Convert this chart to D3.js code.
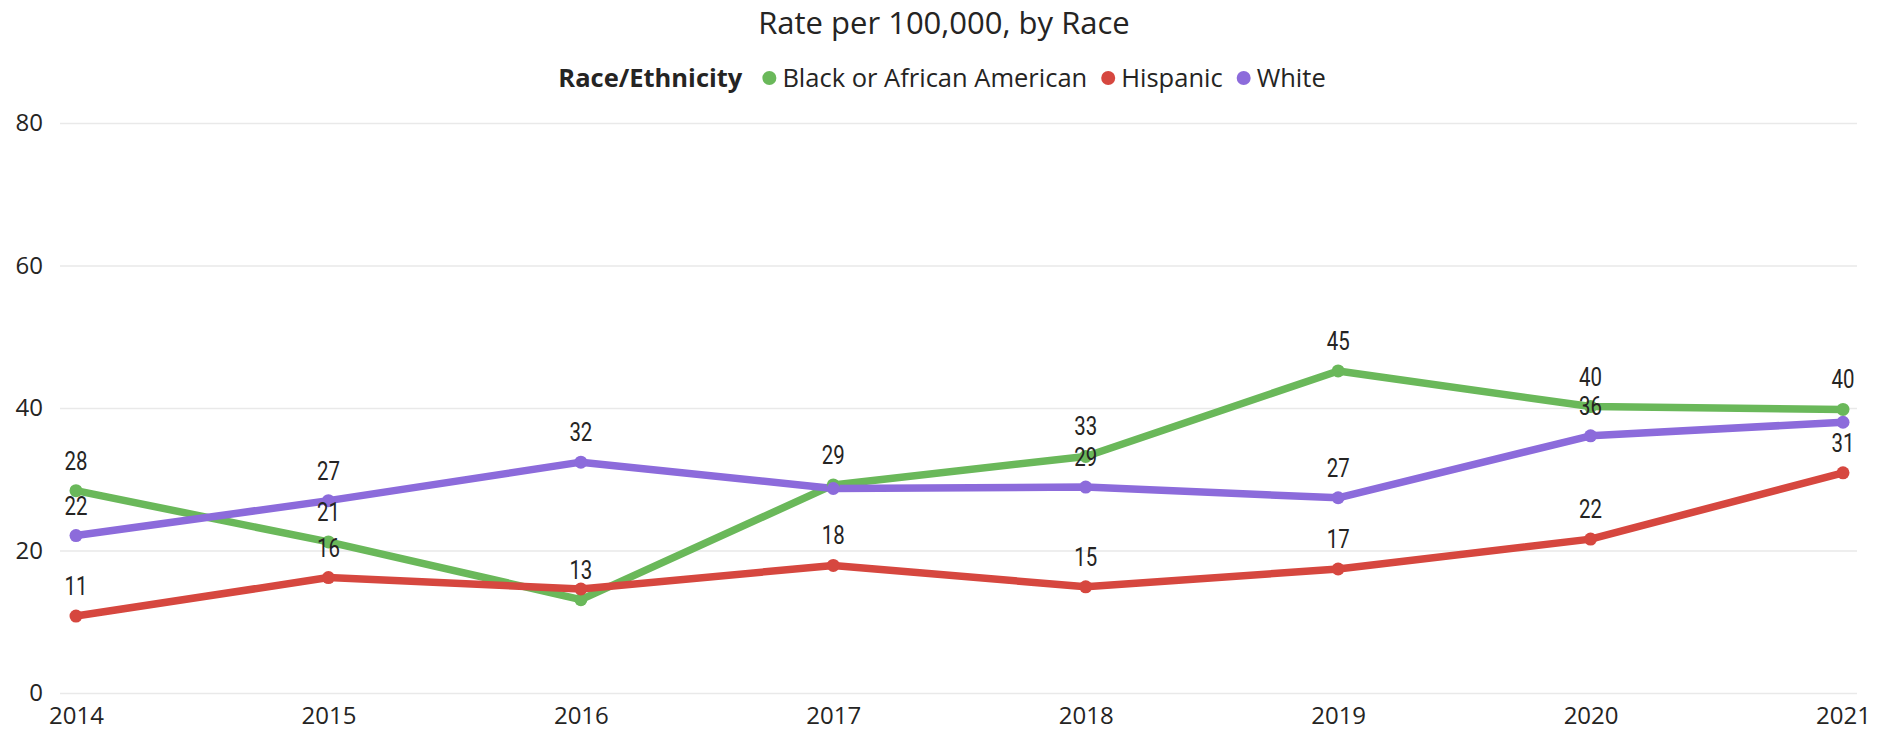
<!DOCTYPE html>
<html>
<head>
<meta charset="utf-8">
<script src="https://cdn.jsdelivr.net/npm/d3@7"></script>
<style>
  html, body { margin: 0; padding: 0; background: #fff; }
  svg { display: block; }
  .ui { font-family: "Segoe UI", "Open Sans", "Noto Sans", sans-serif; fill: #252423; }
  .lbl { font-family: "DIN", "Roboto", "DejaVu Sans", sans-serif; fill: #252423; font-weight: normal; }
</style>
</head>
<body>
<svg id="chart" width="1886" height="730"></svg>
<script>
// Rate per 100,000 population, by race/ethnicity
const years = ["2014", "2015", "2016", "2017", "2018", "2019", "2020", "2021"];
const blackValues    = [28.4, 21.2, 13.1, 29.2, 33.2, 45.2, 40.2, 39.8];
const hispanicValues = [10.8, 16.2, 14.6, 17.9, 14.9, 17.4, 21.6, 30.9];
const whiteValues    = [22.1, 27.0, 32.4, 28.7, 28.9, 27.4, 36.1, 38.0];
const seriesNames  = ["Black or African American", "Hispanic", "White"];
const seriesColors = ["#6ab85a", "#d6473f", "#8c6bdb"];
const yTicks = [0, 20, 40, 60, 80];
const titleText = "Rate per 100,000, by Race";
const legendTitle = "Race/Ethnicity";

const series = [blackValues, hispanicValues, whiteValues].map((vals, i) => ({
  name: seriesNames[i],
  color: seriesColors[i],
  values: vals.map((v, j) => ({ year: years[j], value: v }))
}));

const W = 1886, H = 730;
const svg = d3.select("#chart");

const x = d3.scalePoint().domain(years).range([76, 1843]);
const y = d3.scaleLinear().domain([0, 80]).range([693, 123]);

// Title
svg.append("text").attr("class", "ui")
  .attr("x", W / 2 + 1).attr("y", 34)
  .attr("text-anchor", "middle")
  .style("font-size", "31px")
  .text(titleText);

// Legend, centred as a whole
const legend = svg.append("g");
let cx = 0;
const lt = legend.append("text").attr("class", "ui")
  .attr("x", cx).attr("y", 87)
  .style("font-size", "25.5px").style("font-weight", "bold")
  .text(legendTitle);
cx += lt.node().getComputedTextLength() + 27;
series.forEach(s => {
  legend.append("circle").attr("cx", cx).attr("cy", 78).attr("r", 7).attr("fill", s.color);
  cx += 13;
  const t = legend.append("text").attr("class", "ui")
    .attr("x", cx).attr("y", 87)
    .style("font-size", "25.5px")
    .text(s.name);
  cx += t.node().getComputedTextLength() + 21;
});
const legendWidth = cx - 21;
legend.attr("transform", `translate(${(W - legendWidth) / 2 - 1},0)`);

// Gridlines and y-axis labels
const yAxis = d3.axisLeft(y).tickValues(yTicks).tickSize(-(1857 - 60)).tickPadding(17);
const yg = svg.append("g").attr("transform", "translate(60,0)").call(yAxis);
yg.select(".domain").remove();
yg.selectAll(".tick line").attr("stroke", "#e9e9e9").attr("stroke-width", 1.5);
yg.selectAll(".tick text").attr("class", "ui")
  .style("font-size", "24px").attr("fill", "#252423");

// x-axis labels
const xAxis = d3.axisBottom(x).tickSize(0).tickPadding(14);
const xg = svg.append("g").attr("transform", "translate(0,693)").call(xAxis);
xg.select(".domain").remove();
xg.selectAll(".tick text").attr("class", "ui")
  .style("font-size", "24px").attr("fill", "#252423");

// Lines and markers
const line = d3.line().x(d => x(d.year)).y(d => y(d.value));
const plot = svg.append("g");
series.forEach(s => {
  plot.append("path").datum(s.values)
    .attr("fill", "none").attr("stroke", s.color)
    .attr("stroke-width", 7.5).attr("stroke-linejoin", "round").attr("stroke-linecap", "round")
    .attr("d", line);
});
series.forEach(s => {
  plot.selectAll(null).data(s.values).enter().append("circle")
    .attr("cx", d => x(d.year)).attr("cy", d => y(d.value))
    .attr("r", 6.5).attr("fill", s.color);
});

// Data labels above each point, in a narrow face; a label that would
// collide with one already placed is dropped
const fmt = d3.format(".0f");
const sx = 0.8;
const placed = [];
const labels = svg.append("g");
series.forEach(s => {
  s.values.forEach(d => {
    const px = x(d.year), py = y(d.value) - 21;
    const t = labels.append("text").attr("class", "lbl")
      .attr("transform", `translate(${px},${py}) scale(${sx},1)`)
      .attr("text-anchor", "middle")
      .style("font-size", "25.5px")
      .text(fmt(d.value));
    const b = t.node().getBBox();
    const box = {
      x0: px + b.x * sx, x1: px + (b.x + b.width) * sx,
      y0: py + b.y + 4, y1: py + b.y + b.height - 4
    };
    const hit = placed.some(p => box.x0 < p.x1 && box.x1 > p.x0 && box.y0 < p.y1 && box.y1 > p.y0);
    if (hit) t.remove(); else placed.push(box);
  });
});
</script>
</body>
</html>
